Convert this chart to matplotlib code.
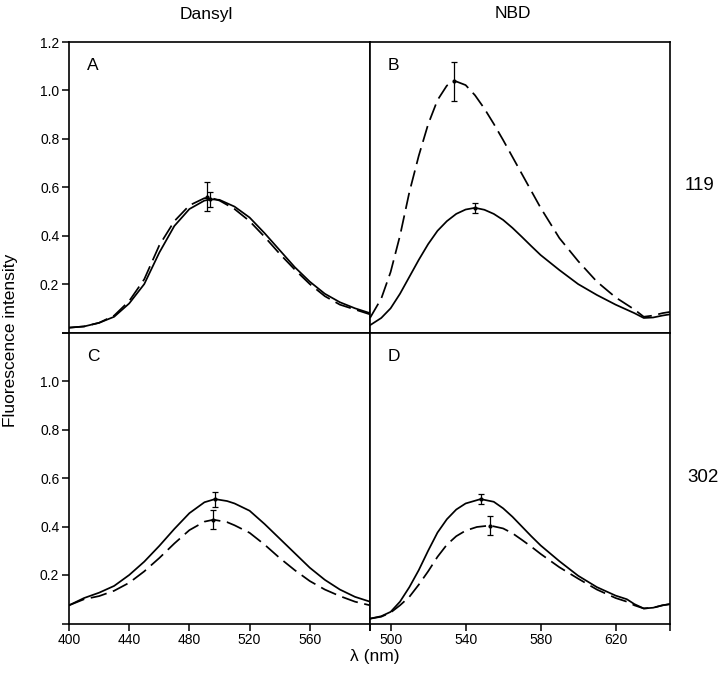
import matplotlib
matplotlib.use("Agg")
import matplotlib.pyplot as plt

plt.rcParams['font.family'] = ['Liberation Sans', 'DejaVu Sans']

# ---------------- data ----------------
# Panel A (Dansyl, 119)
a_x_solid = [400, 410, 420, 430, 440, 450, 460, 470, 480, 490, 495, 500, 510, 520, 530, 540, 550, 560, 570, 580, 590, 600]
a_y_solid = [0.02, 0.025, 0.04, 0.065, 0.12, 0.20, 0.33, 0.44, 0.51, 0.545, 0.55, 0.548, 0.52, 0.475, 0.41, 0.34, 0.27, 0.21, 0.16, 0.125, 0.10, 0.08]
a_x_dash = [400, 410, 420, 430, 440, 450, 460, 470, 480, 490, 495, 500, 510, 520, 530, 540, 550, 560, 570, 580, 590, 600]
a_y_dash = [0.02, 0.025, 0.04, 0.07, 0.13, 0.22, 0.36, 0.46, 0.525, 0.555, 0.555, 0.545, 0.51, 0.46, 0.395, 0.325, 0.26, 0.20, 0.15, 0.115, 0.095, 0.075]
a_err_solid = (494, 0.55, 0.03)
a_err_dash = (492, 0.56, 0.06)

# Panel B (NBD, 119)
b_x_solid = [489, 495, 500, 505, 510, 515, 520, 525, 530, 535, 540, 545, 550, 555, 560, 565, 570, 575, 580, 590, 600, 610, 620, 630, 635, 640, 645, 649]
b_y_solid = [0.03, 0.06, 0.10, 0.16, 0.23, 0.30, 0.365, 0.42, 0.46, 0.49, 0.508, 0.515, 0.507, 0.49, 0.465, 0.432, 0.395, 0.357, 0.32, 0.258, 0.20, 0.155, 0.115, 0.08, 0.06, 0.062, 0.07, 0.075]
b_x_dash = [489, 495, 500, 505, 510, 515, 520, 525, 530, 535, 540, 545, 550, 555, 560, 565, 570, 575, 580, 590, 600, 610, 620, 630, 635, 640, 645, 649]
b_y_dash = [0.06, 0.14, 0.25, 0.40, 0.58, 0.73, 0.86, 0.96, 1.02, 1.037, 1.022, 0.98, 0.925, 0.862, 0.795, 0.725, 0.655, 0.585, 0.515, 0.39, 0.295, 0.21, 0.145, 0.095, 0.065, 0.07, 0.08, 0.085]
b_err_solid = (545, 0.515, 0.022)
b_err_dash = (534, 1.037, 0.08)

# Panel C (Dansyl, 302)
c_x_solid = [400, 410, 420, 430, 440, 450, 460, 470, 480, 490, 497, 505, 510, 520, 530, 540, 550, 560, 570, 580, 590, 600]
c_y_solid = [0.075, 0.105, 0.127, 0.155, 0.20, 0.255, 0.32, 0.39, 0.455, 0.50, 0.513, 0.505, 0.495, 0.465, 0.41, 0.35, 0.29, 0.23, 0.18, 0.14, 0.11, 0.09]
c_x_dash = [400, 410, 420, 430, 440, 450, 460, 470, 480, 490, 496, 505, 510, 520, 530, 540, 550, 560, 570, 580, 590, 600]
c_y_dash = [0.075, 0.10, 0.113, 0.135, 0.168, 0.215, 0.27, 0.33, 0.385, 0.42, 0.428, 0.418, 0.405, 0.374, 0.325, 0.27, 0.22, 0.175, 0.14, 0.113, 0.09, 0.075]
c_err_solid = (497, 0.513, 0.031)
c_err_dash = (496, 0.428, 0.04)

# Panel D (NBD, 302)
d_x_solid = [489, 495, 500, 505, 510, 515, 520, 525, 530, 535, 540, 548, 555, 560, 565, 570, 575, 580, 590, 600, 610, 620, 626, 630, 635, 640, 645, 649]
d_y_solid = [0.02, 0.03, 0.048, 0.09, 0.15, 0.22, 0.30, 0.375, 0.43, 0.47, 0.495, 0.513, 0.502, 0.475, 0.44, 0.40, 0.36, 0.322, 0.257, 0.197, 0.15, 0.115, 0.10, 0.08, 0.062, 0.065, 0.075, 0.08]
d_x_dash = [489, 495, 500, 505, 510, 515, 520, 525, 530, 535, 540, 546, 553, 560, 565, 570, 575, 580, 590, 600, 610, 620, 626, 630, 635, 640, 645, 649]
d_y_dash = [0.02, 0.028, 0.045, 0.075, 0.11, 0.16, 0.215, 0.275, 0.325, 0.36, 0.383, 0.398, 0.404, 0.392, 0.372, 0.345, 0.317, 0.287, 0.232, 0.185, 0.14, 0.105, 0.09, 0.075, 0.062, 0.065, 0.075, 0.08]
d_err_solid = (548, 0.513, 0.02)
d_err_dash = (553, 0.404, 0.04)

left_xticks = [400, 440, 480, 520, 560, 600]
left_xlabels = ['400', '440', '480', '520', '560', '']
right_xticks = [489, 500, 540, 580, 620, 649]
right_xlabels = ['', '500', '540', '580', '620', '']
yticks = [0, 0.2, 0.4, 0.6, 0.8, 1.0, 1.2]
top_ylabels = ['', '0.2', '0.4', '0.6', '0.8', '1.0', '1.2']
bot_ylabels = ['', '0.2', '0.4', '0.6', '0.8', '1.0', '']
col_titles = ['Dansyl', 'NBD']
row_labels = ['119', '302']
panel_letters = ['A', 'B', 'C', 'D']

# ---------------- figure ----------------
W, H = 720, 677
fig = plt.figure(figsize=(W / 100, H / 100), dpi=100)

def fx(px):
    return px / W

def fy(py):
    return 1 - py / H

xl, xm, xr = 69, 370, 670
yt, ymid, yb = 42, 332.5, 623.5

ax_a = fig.add_axes([fx(xl), fy(ymid), fx(xm - xl), (ymid - yt) / H])
ax_b = fig.add_axes([fx(xm), fy(ymid), fx(xr - xm), (ymid - yt) / H])
ax_c = fig.add_axes([fx(xl), fy(yb), fx(xm - xl), (yb - ymid) / H])
ax_d = fig.add_axes([fx(xm), fy(yb), fx(xr - xm), (yb - ymid) / H])

panels = [
    (ax_a, a_x_solid, a_y_solid, a_x_dash, a_y_dash, a_err_solid, a_err_dash, (400, 600)),
    (ax_b, b_x_solid, b_y_solid, b_x_dash, b_y_dash, b_err_solid, b_err_dash, (489, 649)),
    (ax_c, c_x_solid, c_y_solid, c_x_dash, c_y_dash, c_err_solid, c_err_dash, (400, 600)),
    (ax_d, d_x_solid, d_y_solid, d_x_dash, d_y_dash, d_err_solid, d_err_dash, (489, 649)),
]

for i, (ax, xs, ys, xd, yd, es, ed, xlim) in enumerate(panels):
    ax.plot(xs, ys, color='black', lw=1.25, solid_joinstyle='round')
    ax.plot(xd, yd, color='black', lw=1.25, dashes=(9.5, 3.8))
    for (ex, ey, ee) in (es, ed):
        ax.errorbar([ex], [ey], yerr=[ee], fmt='o', ms=2, color='black',
                    ecolor='black', elinewidth=0.9, capsize=2.5, capthick=0.9)
    ax.set_xlim(*xlim)
    ax.set_ylim(0, 1.2)
    for sp in ax.spines.values():
        sp.set_linewidth(1.2)
    ax.text(0.06, 0.945, panel_letters[i], transform=ax.transAxes,
            fontsize=12.5, ha='left', va='top')
    ax.tick_params(direction='out', length=5, width=1.1, labelsize=10, pad=2)

# y ticks
ax_a.set_yticks(yticks)
ax_a.set_yticklabels(top_ylabels)
ax_c.set_yticks(yticks)
ax_c.set_yticklabels(bot_ylabels)
ax_b.set_yticks([])
ax_d.set_yticks([])

# x ticks
ax_a.set_xticks([])
ax_b.set_xticks([])
ax_c.set_xticks(left_xticks)
ax_c.set_xticklabels(left_xlabels)
ax_d.set_xticks(right_xticks)
ax_d.set_xticklabels(right_xlabels)

# column titles / row labels
fig.text(fx(206), fy(14), col_titles[0], fontsize=12.5, ha='center', va='center')
fig.text(fx(513), fy(14), col_titles[1], fontsize=12.5, ha='center', va='center')
fig.text(fx(700), fy(185), row_labels[0], fontsize=13.5, ha='center', va='center')
fig.text(fx(703), fy(477), row_labels[1], fontsize=13.5, ha='center', va='center')

fig.text(fx(11), fy(340), 'Fluorescence intensity', fontsize=12.5, rotation=90,
         ha='center', va='center')
fig.text(fx(375), fy(657), 'λ (nm)', fontsize=12.5, ha='center', va='center')

fig.savefig('out.png', dpi=100)
